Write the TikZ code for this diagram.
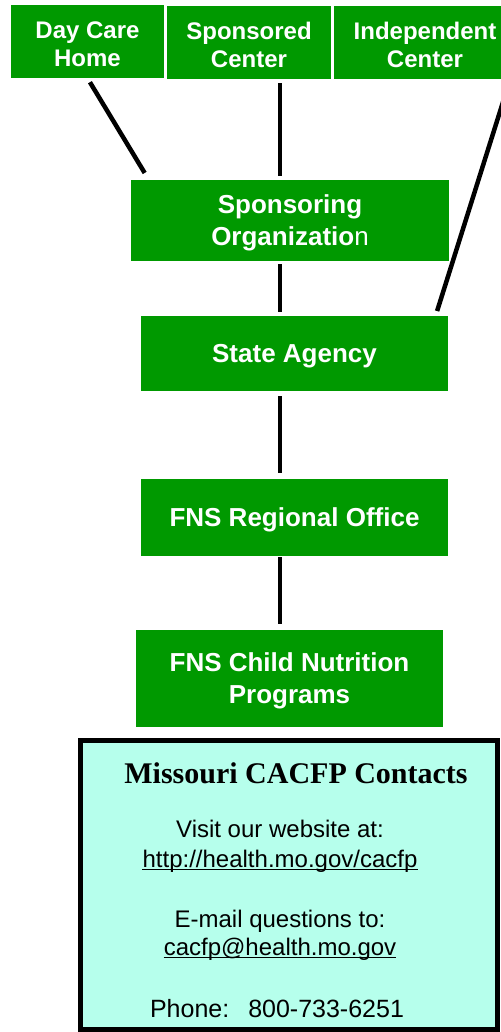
\documentclass[tikz,border=0pt]{standalone}
\usepackage{fontspec}
\setmainfont{Liberation Sans}
\newfontfamily\titlefont{Liberation Serif}
\definecolor{cfgreen}{RGB}{0,153,0}
\definecolor{cfcyan}{RGB}{182,255,236}
\newcommand\sitestrut{\rule{0pt}{23pt}}
\begin{document}
\begin{tikzpicture}[x=1pt,y=-1pt,
	orgbox/.style={fill=cfgreen,text=white,align=center,inner sep=0pt,text depth=0pt,
		font=\bfseries\fontsize{26}{32}\selectfont},
	sitebox/.style={orgbox,minimum height=73pt,font=\bfseries\fontsize{24}{28}\selectfont},
	link/.style={line width=4.5pt,black},
	contact/.style={anchor=base,inner sep=0pt,font=\fontsize{24}{28}\selectfont}]
	\useasboundingbox (0,0) rectangle (500,1032);
	% les sites
	\node[sitebox,minimum width=153pt] (daycare) at (87.5,41.5) {\sitestrut Day Care\\Home};
	\node[sitebox,minimum width=164pt] (sponsored) at (249,42.5) {\sitestrut Sponsored\\Center};
	\node[sitebox,minimum width=182pt] (indep) at (425,42.5) {\sitestrut Independent\\Center};
	% la chaine
	\node[orgbox,minimum width=318pt,minimum height=81pt] (sponsoring) at (290,220.5) {Sponsoring\\Organizatio{\mdseries n}};
	\node[orgbox,minimum width=307pt,minimum height=75pt] (state) at (294.5,353.5) {State Agency};
	\node[orgbox,minimum width=307pt,minimum height=77pt] (regional) at (294.5,517.5) {FNS Regional Office};
	\node[orgbox,minimum width=307pt,minimum height=97pt] (child) at (289.5,678.5) {FNS Child Nutrition\\Programs};
	\coordinate (spine) at (280,0);
	% les traits
	\draw[link,shorten <=4.7pt,shorten >=8pt] (daycare.south) -- ([xshift=18pt]sponsoring.north west);
	\draw[link,shorten <=4pt,shorten >=4pt] (sponsored.south -| spine) -- (sponsoring.north -| spine);
	\draw[link,shorten <=3pt,shorten >=5pt] ([xshift=-6pt]indep.south east) -- ([xshift=-12.6pt]state.north east);
	\draw[link,shorten <=3pt,shorten >=4pt] (sponsoring.south -| spine) -- (state.north -| spine);
	\draw[link,shorten <=5pt,shorten >=6pt] (state.south -| spine) -- (regional.north -| spine);
	\draw[link,shorten <=1pt,shorten >=6pt] (regional.south -| spine) -- (child.north -| spine);
	% contacts
	\draw[fill=cfcyan,line width=5pt] (80.5,740.5) rectangle (497.5,1029.5);
	\node[anchor=base,inner sep=0pt,font=\titlefont\bfseries\fontsize{30}{34}\selectfont] (title) at (296,783) {Missouri CACFP Contacts};
	\node[contact] (visit) at (280,837) {Visit our website at:};
	\node[contact] (url) at (280,867) {http://health.mo.gov/cacfp};
	\node[contact] (mailto) at (280,927) {E-mail questions to:};
	\node[contact] (mail) at (280,955) {cacfp@health.mo.gov};
	\node[contact,font=\fontsize{25}{28}\selectfont] (phone) at (277,1017) {Phone:\hspace{19pt}800-733-6251};
	\draw[line width=1.5pt] ([yshift=-2.5pt]url.base west) -- ([yshift=-2.5pt]url.base east);
	\draw[line width=1.5pt] ([yshift=-2.5pt]mail.base west) -- ([yshift=-2.5pt]mail.base east);
\end{tikzpicture}
\end{document}
